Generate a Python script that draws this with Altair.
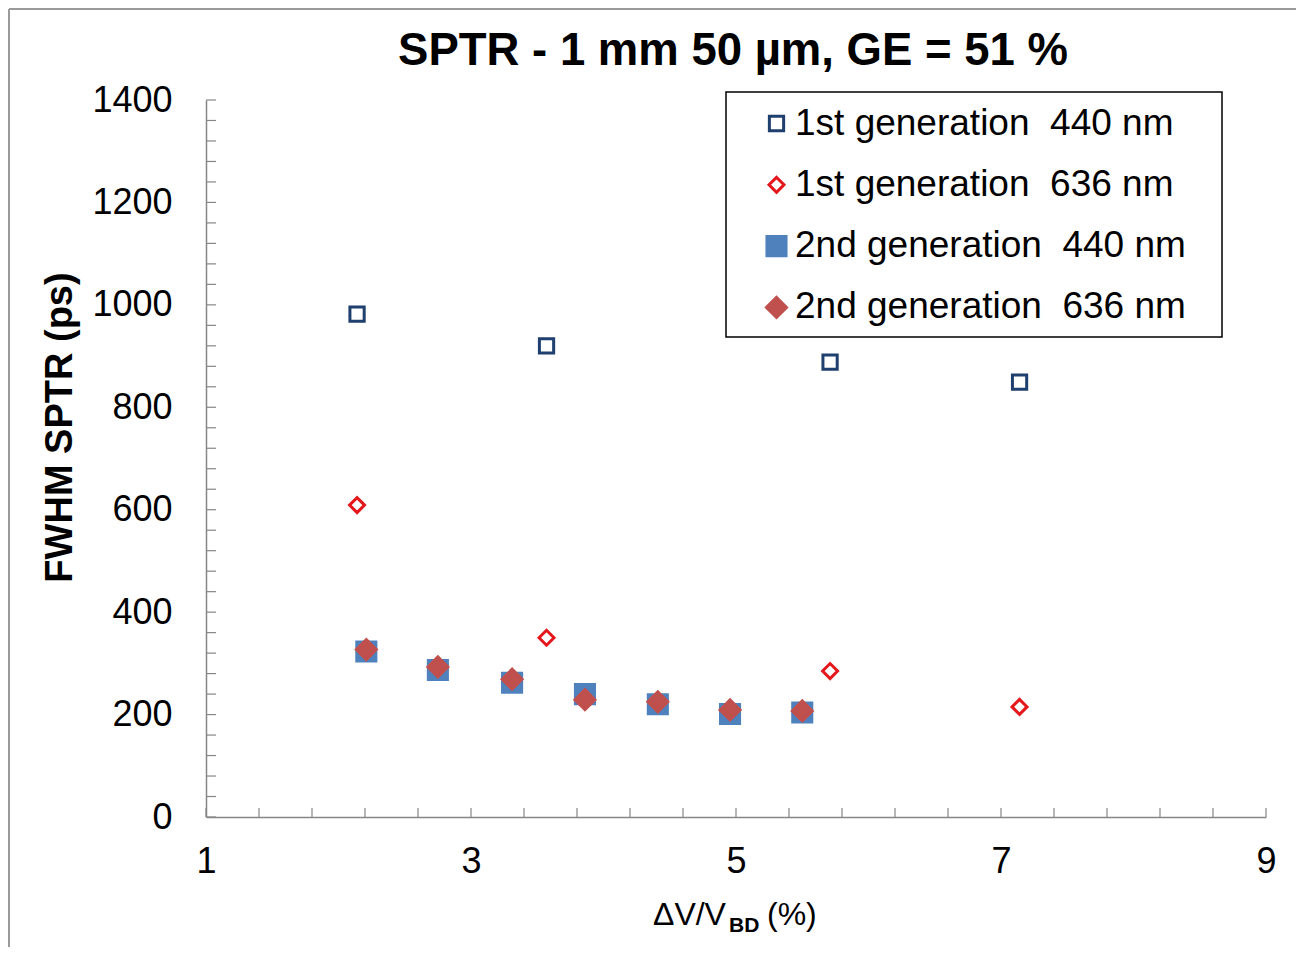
import altair as alt
import pandas as pd

# ---- data ----
series_names = [
    "1st generation\u00a0 440 nm",
    "1st generation\u00a0 636 nm",
    "2nd generation\u00a0 440 nm",
    "2nd generation\u00a0 636 nm",
]
gen1_440_x = [2.14, 3.57, 5.71, 7.14]
gen1_440_y = [982, 920, 888, 849]
gen1_636_x = [2.14, 3.57, 5.71, 7.14]
gen1_636_y = [609, 350, 285, 215]
gen2_x = [2.21, 2.75, 3.31, 3.86, 4.41, 4.955, 5.50]
gen2_440_y = [323, 287, 262, 240, 220, 201, 204]
gen2_636_y = [327, 293, 269, 229, 225, 209, 207]

x_tick_labels = [1, 3, 5, 7, 9]
y_tick_labels = [0, 200, 400, 600, 800, 1000, 1200, 1400]
x_minor = [round(1 + 0.4 * i, 2) for i in range(21)]
y_minor = [40 * i for i in range(36)]

# marker styling per series (custom symbol paths, unit box [-1, 1])
def sq(h):
    return f"M{-h},{-h}L{h},{-h}L{h},{h}L{-h},{h}Z"

def dm(h):
    return f"M{-h},0L0,{-h}L{h},0L0,{h}Z"

marker_shapes = [sq(0.62), dm(0.65), sq(0.83), dm(0.87)]
marker_fills = ["transparent", "transparent", "#4F81BD", "#C0504D"]
marker_strokes = ["#1F3F6E", "#E3171C", "#4F81BD", "#C0504D"]

rows = []
for i, (xs, ys) in enumerate([
    (gen1_440_x, gen1_440_y),
    (gen1_636_x, gen1_636_y),
    (gen2_x, gen2_440_y),
    (gen2_x, gen2_636_y),
]):
    for a, b in zip(xs, ys):
        rows.append({"x": a, "y": b, "series": series_names[i]})
df = pd.DataFrame(rows)

FONT = "Liberation Sans"
W, H = 1060, 717

x_enc = alt.X(
    "x:Q",
    scale=alt.Scale(domain=[1, 9], nice=False, zero=False),
    axis=alt.Axis(
        values=x_tick_labels, tickSize=0, labelPadding=27, labelFontSize=36,
        labelFont=FONT, labelColor="black", domainColor="#868686", domainWidth=1.5,
        grid=False, title=None, labelFlush=False, format="d",
    ),
)
y_enc = alt.Y(
    "y:Q",
    scale=alt.Scale(domain=[0, 1400], nice=False),
    axis=alt.Axis(
        values=y_tick_labels, tickSize=0, labelPadding=34, labelFontSize=36,
        labelFont=FONT, labelColor="black", domainColor="#868686", domainWidth=1.5,
        grid=False, title="FWHM SPTR (ps)", titleFont=FONT, titleFontSize=38,
        titleFontWeight="bold", titleColor="black", titleX=-135, titleY=327,
        titleBaseline="alphabetic", labelFlush=False, format="d",
    ),
)

dom = series_names
leg = alt.Legend(title=None)
points = alt.Chart(df).mark_point(opacity=1, size=529, strokeWidth=3).encode(
    x=x_enc,
    y=y_enc,
    shape=alt.Shape("series:N", scale=alt.Scale(domain=dom, range=marker_shapes), legend=leg),
    fill=alt.Fill("series:N", scale=alt.Scale(domain=dom, range=marker_fills), legend=leg),
    stroke=alt.Stroke("series:N", scale=alt.Scale(domain=dom, range=marker_strokes), legend=leg),
)

xt = alt.Chart(pd.DataFrame({"x": x_minor})).mark_rule(color="#868686", strokeWidth=1.2).encode(
    x=x_enc, y=alt.value(H - 9), y2=alt.value(H)
)
yt = alt.Chart(pd.DataFrame({"y": y_minor})).mark_rule(color="#868686", strokeWidth=1.2).encode(
    y=y_enc, x=alt.value(0), x2=alt.value(10)
)

one = alt.Data(values=[{"k": 1}])
legend_box = alt.Chart(one).mark_rect(fill="white", stroke="black", strokeWidth=1.5).encode(
    x=alt.value(520), x2=alt.value(1016), y=alt.value(-8), y2=alt.value(237)
)
frame_top = alt.Chart(one).mark_rule(color="#9a9a9a", strokeWidth=2).encode(
    x=alt.value(-197), x2=alt.value(W + 40), y=alt.value(-91)
)
frame_left = alt.Chart(one).mark_rule(color="#9a9a9a", strokeWidth=2).encode(
    x=alt.value(-197), y=alt.value(-91), y2=alt.value(H + 140)
)

title_txt = alt.Chart(one).mark_text(
    text="SPTR - 1 mm 50 \u00b5m, GE = 51 %", font=FONT, fontSize=45.5, fontWeight="bold",
    align="center", baseline="alphabetic", color="black",
).encode(x=alt.value(527), y=alt.value(-35))

xt1 = alt.Chart(one).mark_text(text="\u0394V/V", font=FONT, fontSize=32, align="left", baseline="alphabetic", color="black").encode(
    x=alt.value(447), y=alt.value(825)
)
xt2 = alt.Chart(one).mark_text(text="BD", font=FONT, fontSize=21, fontWeight="bold", align="left", baseline="alphabetic", color="black").encode(
    x=alt.value(523), y=alt.value(832)
)
xt3 = alt.Chart(one).mark_text(text="(%)", font=FONT, fontSize=32, align="left", baseline="alphabetic", color="black").encode(
    x=alt.value(561), y=alt.value(825)
)

chart = alt.layer(
    frame_top, frame_left, legend_box, xt, yt, points, title_txt, xt1, xt2, xt3
).properties(
    width=W,
    height=H,
    autosize=alt.AutoSizeParams(type="none"),
    padding={"left": 198, "top": 92, "right": 30, "bottom": 130},
).configure_view(stroke=None).configure_legend(
    orient="none", legendX=552, legendY=5, padding=0, labelFontSize=37, labelFont=FONT,
    labelColor="black", rowPadding=23.3, labelOffset=0, labelLimit=0,
    symbolSize=529, symbolStrokeWidth=3,
)

chart.save("out.html", embed_options={"renderer": "svg", "actions": False})
